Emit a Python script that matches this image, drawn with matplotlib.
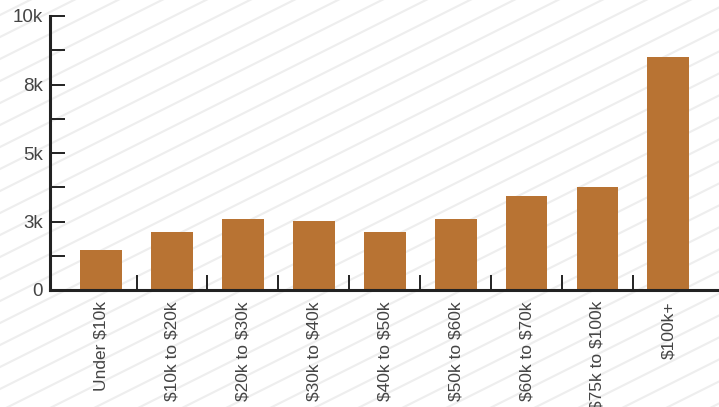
import matplotlib
matplotlib.use("Agg")
import matplotlib.pyplot as plt
from matplotlib.lines import Line2D
import numpy as np

# data
categories = ["Under $10k", "$10k to $20k", "$20k to $30k", "$30k to $40k",
              "$40k to $50k", "$50k to $60k", "$60k to $70k", "$75k to $100k",
              "$100k+"]
values = [1460, 2120, 2590, 2520, 2120, 2590, 3430, 3760, 8500]
ytick_vals = [0, 2500, 5000, 7500, 10000]
ytick_labels = ["0", "3k", "5k", "8k", "10k"]

W, H = 719, 407
plt.rcParams['font.family'] = ['Liberation Sans', 'DejaVu Sans']
plt.rcParams['text.parse_math'] = False
fig = plt.figure(figsize=(W / 100, H / 100), dpi=100)
fig.patch.set_facecolor("white")

# diagonal background stripes (pixel space -> figure fraction)
slope = 0.5
gap = 22
for c in np.arange(-400, H + 400, gap):
    x0, x1 = 0, W
    y0, y1 = c, c + slope * W
    fig.add_artist(Line2D([x0 / W, x1 / W], [y0 / H, y1 / H],
                          transform=fig.transFigure, color="#eeeeee",
                          lw=1.5, zorder=0))

ax = fig.add_axes([50 / W, (H - 290) / H, (718 - 50) / W, 274 / H])
ax.patch.set_alpha(0)
ax.set_zorder(1)

x = np.arange(len(categories))
ax.bar(x, values, width=0.59, color="#b87333", zorder=2)

ax.set_xlim(-0.72, len(categories) - 1 + 0.7)
ax.set_ylim(0, 10000)

for s in ["top", "right"]:
    ax.spines[s].set_visible(False)
for s in ["left", "bottom"]:
    ax.spines[s].set_linewidth(2.2)
    ax.spines[s].set_color("#222222")
    ax.spines[s].set_zorder(3)

ax.set_yticks(ytick_vals)
ax.set_yticklabels(ytick_labels)
ax.set_yticks(np.arange(1250, 10000, 2500), minor=True)
ax.tick_params(axis="y", which="both", direction="in", length=10.5, width=1.4,
               color="#222222", pad=5, labelsize=13.5, labelcolor="#444444")

ax.set_xticks(x)
ax.set_xticklabels(categories, rotation=90, ha="center", va="top")
ax.set_xticks(x[:-1] + 0.5, minor=True)
ax.tick_params(axis="x", which="major", length=0, pad=8, labelsize=12.5,
               labelcolor="#444444")
ax.tick_params(axis="x", which="minor", direction="in", length=10.5, width=1.4,
               color="#222222")

fig.savefig("out.png", dpi=100)
